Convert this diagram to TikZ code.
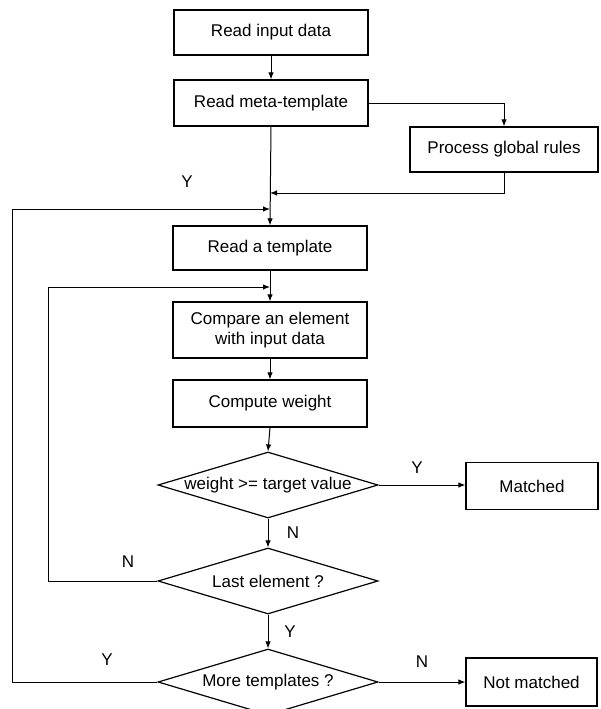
\documentclass[tikz,border=0pt]{standalone}
\usepackage{fontspec}
\setmainfont{Liberation Sans}
\usetikzlibrary{arrows.meta,shapes.geometric}
\tikzset{
  box/.style={draw, line width=1.2pt, minimum width=194pt, inner sep=0pt, align=center, font=\fontsize{17}{20}\selectfont},
  dec/.style={draw, line width=1.2pt, diamond, minimum width=220pt, minimum height=66pt, inner sep=0pt, font=\fontsize{17}{20}\selectfont},
  arr/.style={line width=1pt, -{Latex[length=7pt,width=5.5pt]}},
  lab/.style={font=\fontsize{17}{20}\selectfont, inner sep=0pt}
}
\begin{document}
\begin{tikzpicture}[x=1pt,y=-1pt]
\clip (0,0) rectangle (600,709);
\fill[white] (0,0) rectangle (600,709);
% boxes
\node[box, minimum height=45pt] (in) at (271,32.5) {Read input data};
\node[box, minimum height=46pt] (meta) at (271,103) {Read meta-template};
\node[box, minimum width=188pt, minimum height=45pt] (pgr) at (504,149.5) {Process global rules};
\node[box, minimum height=44pt] (tmpl) at (270,248) {Read a template};
\node[box, minimum height=56pt] (cmp) at (270,330) {Compare an element\\with input data};
\node[box, minimum height=47pt] (cw) at (270,403.5) {Compute weight};
\node[dec] (d1) at (268,485) {\makebox[0pt]{weight >= target value}};
\node[dec] (d2) at (268,581) {\makebox[0pt]{Last element ?}};
\node[dec] (d3) at (268,682) {\makebox[0pt]{More templates ?}};
\node[box, minimum width=132pt, minimum height=47pt] (mat) at (532,486) {Matched};
\node[box, minimum width=131pt, minimum height=48pt] (nmat) at (531.5,682) {Not matched};
% junction coordinates
\coordinate (j1) at (270,193);
\coordinate (j2) at (270,209);
\coordinate (j3) at (270,287);
\coordinate (o3) at (12,682);
\coordinate (o2) at (48,581);
% connectors
\draw[arr] (in) -- (meta);
\draw[arr] (meta.east) -| (pgr.north);
\draw[arr] (meta.south) -- (tmpl.north);
\draw[arr] (pgr.south) |- (j1);
\draw[arr] (d3.west) -- (o3) |- (j2);
\draw[arr] (tmpl.south) -- (cmp.north);
\draw[arr] (d2.west) -- (o2) |- (j3);
\draw[arr] (cmp) -- (cw);
\draw[arr] (cw.south) -- (d1.north);
\draw[arr] (d1.east) -- (d1.east -| mat.west);
\draw[arr] (d1.south) -- (d2.north);
\draw[arr] (d2.south) -- (d3.north);
\draw[arr] (d3.east) -- (d3.east -| nmat.west);
% labels
\node[lab] (ly1) at (187,182) {Y};
\node[lab] (ly2) at (417,468) {Y};
\node[lab] (ln1) at (293,533) {N};
\node[lab] (ln2) at (128,562) {N};
\node[lab] (ly3) at (290,632) {Y};
\node[lab] (ly4) at (107,660) {Y};
\node[lab] (ln3) at (422,662) {N};
\end{tikzpicture}
\end{document}
